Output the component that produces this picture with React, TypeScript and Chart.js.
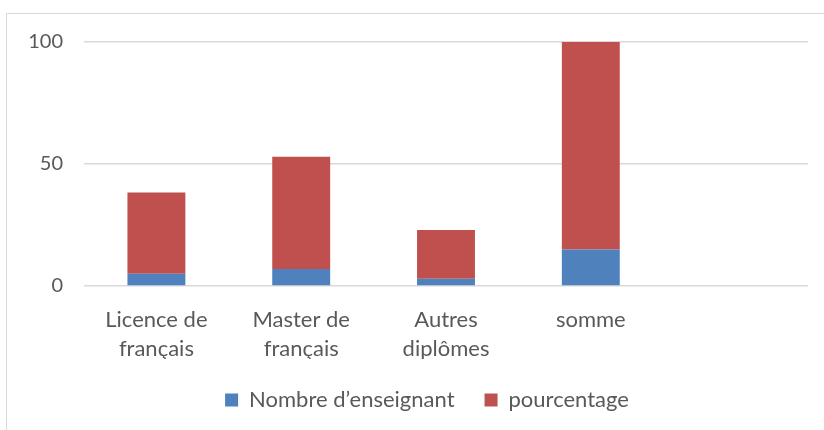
import React, { useEffect, useRef } from "react";
import { Chart, registerables } from "chart.js";

Chart.register(...registerables);

const categories: (string | string[])[] = [
  ["Licence de", "français"],
  ["Master de", "français"],
  ["Autres", "diplômes"],
  "somme",
  "",
];
const nombreEnseignant = [5, 7, 3, 15, null];
const pourcentage = [33.3, 46, 20, 100, null];
const yTicks = [0, 50, 100];

const FONT = "Lato, 'Liberation Sans', sans-serif";
const TEXT = "#595959";

const legendShift = {
  id: "legendShift",
  afterLayout(chart: any) {
    if (chart.legend) {
      chart.legend.left += 23;
      chart.legend.right += 23;
    }
  },
};

export default function App() {
  const ref = useRef<HTMLCanvasElement>(null);
  useEffect(() => {
    if (!ref.current) return;
    const chart = new Chart(ref.current, {
      type: "bar",
      data: {
        labels: categories,
        datasets: [
          {
            label: "Nombre d\u2019enseignant",
            data: nombreEnseignant,
            backgroundColor: "#4F81BD",
            borderWidth: 0,
            clip: 0,
          } as any,
          {
            label: "pourcentage",
            data: pourcentage,
            backgroundColor: "#C0504D",
            borderWidth: 0,
            clip: 0,
          } as any,
        ],
      },
      options: {
        animation: false,
        responsive: false,
        maintainAspectRatio: false,
        datasets: { bar: { categoryPercentage: 1, barPercentage: 0.4 } },
        layout: { padding: { top: 42, right: 16, bottom: 9, left: 0 } },
        scales: {
          x: {
            stacked: true,
            grid: { display: false },
            border: { display: false },
            ticks: {
              color: TEXT,
              font: { family: FONT, size: 22, lineHeight: 1.3 },
              maxRotation: 0,
              autoSkip: false,
              padding: 12,
            },
            afterFit: (s: any) => {
              s.height = 73;
            },
          },
          y: {
            stacked: true,
            min: 0,
            max: 100,
            afterBuildTicks: (s: any) => {
              s.ticks = yTicks.map((v) => ({ value: v }));
            },
            grid: { color: "#d9d9d9", lineWidth: 1.5, drawTicks: false },
            border: { display: false },
            ticks: {
              color: TEXT,
              font: { family: FONT, size: 20 },
              padding: 21,
            },
            afterFit: (s: any) => {
              s.width = 84;
            },
          },
        },
        plugins: {
          tooltip: { enabled: false },
          legend: {
            position: "bottom",
            labels: {
              color: TEXT,
              font: { family: FONT, size: 22 },
              boxWidth: 13,
              boxHeight: 13,
              padding: 30,
            },
          },
        },
      },
      plugins: [legendShift],
    });
    return () => chart.destroy();
  }, []);
  return (
    <div
      style={{
        position: "fixed",
        left: 0,
        top: 0,
        width: 824,
        height: 430,
        background: "#fff",
        overflow: "hidden",
      }}
    >
      <div
        style={{
          position: "absolute",
          left: 6,
          top: 13,
          width: 900,
          height: 500,
          border: "1px solid #d9d9d9",
          boxSizing: "border-box",
        }}
      />
      <canvas
        ref={ref}
        width={824}
        height={430}
        style={{ position: "absolute", left: 0, top: 0, width: 824, height: 430 }}
      />
    </div>
  );
}
